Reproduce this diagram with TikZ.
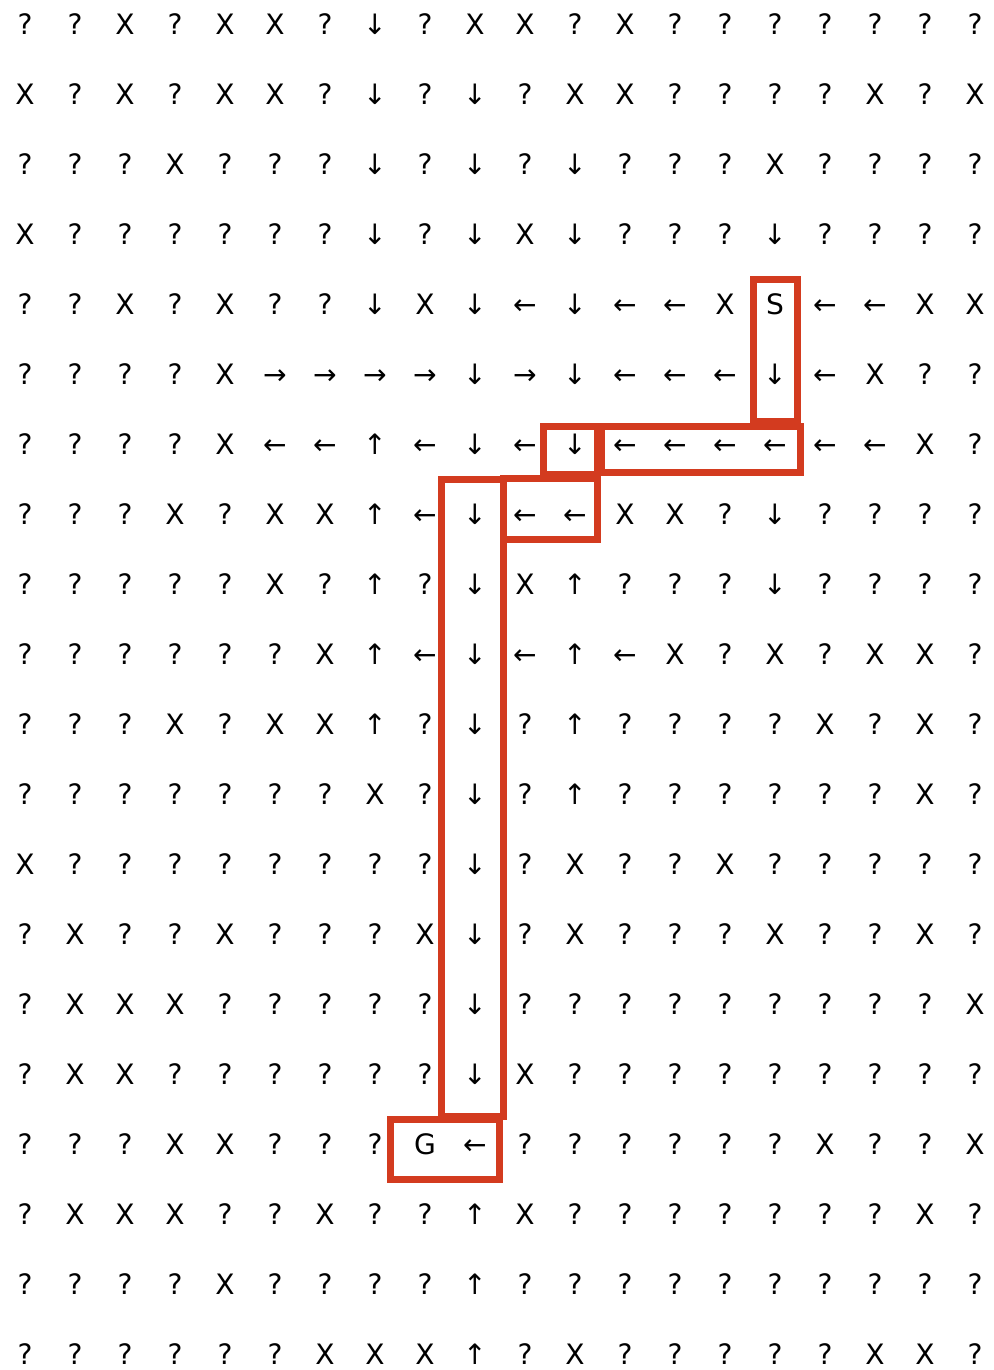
\documentclass[tikz,border=0pt]{standalone}
\usepackage{fontspec}
\setmainfont{DejaVu Sans}
\definecolor{pathcol}{HTML}{D33B1F}

\begin{document}
\begin{tikzpicture}[x=1cm,y=-1cm,
	cell/.style={inner sep=0pt,text height=1.6ex,text depth=0.2ex,font=\fontsize{16}{19}\selectfont},
	pathbox/.style={draw=pathcol,line width=0.14cm}]
\useasboundingbox (0,0) rectangle (19.86,27.4);
\foreach \row [count=\j from 0] in {
	{?,?,X,?,X,X,?,↓,?,X,X,?,X,?,?,?,?,?,?,?},
	{X,?,X,?,X,X,?,↓,?,↓,?,X,X,?,?,?,?,X,?,X},
	{?,?,?,X,?,?,?,↓,?,↓,?,↓,?,?,?,X,?,?,?,?},
	{X,?,?,?,?,?,?,↓,?,↓,X,↓,?,?,?,↓,?,?,?,?},
	{?,?,X,?,X,?,?,↓,X,↓,←,↓,←,←,X,S,←,←,X,X},
	{?,?,?,?,X,→,→,→,→,↓,→,↓,←,←,←,↓,←,X,?,?},
	{?,?,?,?,X,←,←,↑,←,↓,←,↓,←,←,←,←,←,←,X,?},
	{?,?,?,X,?,X,X,↑,←,↓,←,←,X,X,?,↓,?,?,?,?},
	{?,?,?,?,?,X,?,↑,?,↓,X,↑,?,?,?,↓,?,?,?,?},
	{?,?,?,?,?,?,X,↑,←,↓,←,↑,←,X,?,X,?,X,X,?},
	{?,?,?,X,?,X,X,↑,?,↓,?,↑,?,?,?,?,X,?,X,?},
	{?,?,?,?,?,?,?,X,?,↓,?,↑,?,?,?,?,?,?,X,?},
	{X,?,?,?,?,?,?,?,?,↓,?,X,?,?,X,?,?,?,?,?},
	{?,X,?,?,X,?,?,?,X,↓,?,X,?,?,?,X,?,?,X,?},
	{?,X,X,X,?,?,?,?,?,↓,?,?,?,?,?,?,?,?,?,X},
	{?,X,X,?,?,?,?,?,?,↓,X,?,?,?,?,?,?,?,?,?},
	{?,?,?,X,X,?,?,?,G,←,?,?,?,?,?,?,X,?,?,X},
	{?,X,X,X,?,?,X,?,?,↑,X,?,?,?,?,?,?,?,X,?},
	{?,?,?,?,X,?,?,?,?,↑,?,?,?,?,?,?,?,?,?,?},
	{?,?,?,?,?,?,X,X,X,↑,?,X,?,?,?,?,?,X,X,?}%
	}{
	\foreach \sym [count=\i from 0] in \row
		\node[cell] (c-\j-\i) at (0.5+\i,0.56+1.4*\j) {\sym};
	}
\draw[pathbox] (15.06,5.59) rectangle (15.94,8.42);
\draw[pathbox] (12.02,8.52) rectangle (16.0,9.44);
\draw[pathbox] (10.86,8.52) rectangle (11.94,9.48);
\draw[pathbox] (10.06,9.56) rectangle (11.94,10.78);
\draw[pathbox] (8.82,9.58) rectangle (10.06,22.32);
\draw[pathbox] (7.8,22.38) rectangle (9.98,23.58);
\end{tikzpicture}
\end{document}
